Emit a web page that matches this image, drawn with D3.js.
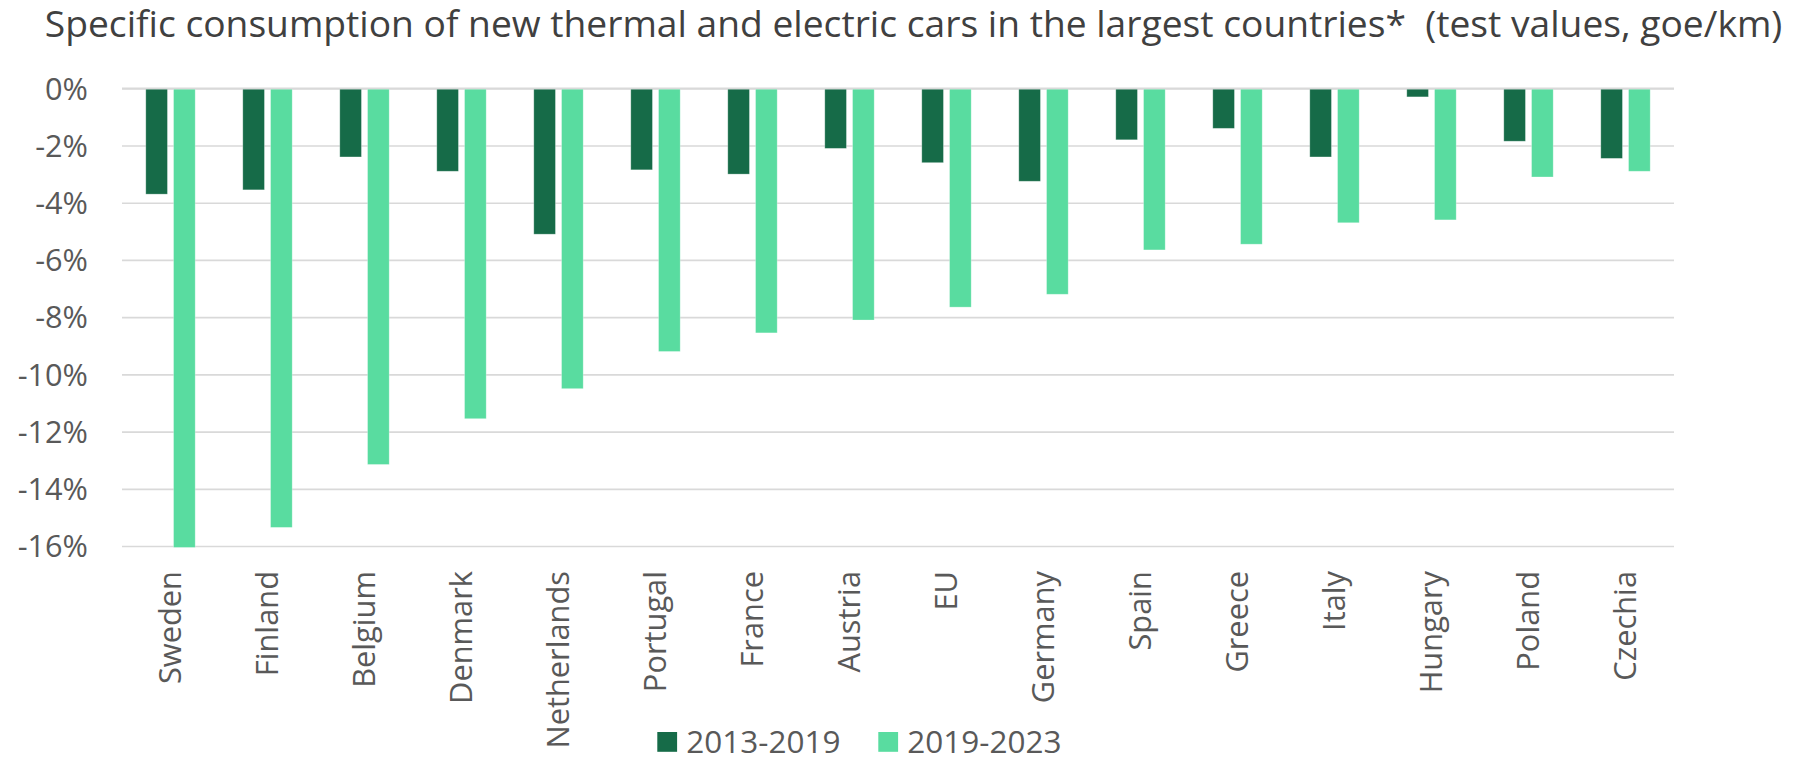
<!DOCTYPE html>
<html>
<head>
<meta charset="utf-8">
<script src="https://cdn.jsdelivr.net/npm/d3@7"></script>
<style>
  html, body { margin: 0; padding: 0; background: #fff; }
  svg { display: block; font-family: "Open Sans", sans-serif; }
</style>
</head>
<body>
<svg id="chart" width="1799" height="757"></svg>
<script>
const titleText = "Specific consumption of new thermal and electric cars in the largest countries*  (test values, goe/km)";
const categories = ["Sweden","Finland","Belgium","Denmark","Netherlands","Portugal","France","Austria","EU","Germany","Spain","Greece","Italy","Hungary","Poland","Czechia"];
const seriesNames = ["2013-2019", "2019-2023"];
const values2013_2019 = [-3.7, -3.55, -2.4, -2.9, -5.1, -2.85, -3.0, -2.1, -2.6, -3.25, -1.8, -1.4, -2.4, -0.3, -1.85, -2.45];
const values2019_2023 = [-16.05, -15.35, -13.15, -11.55, -10.5, -9.2, -8.55, -8.1, -7.65, -7.2, -5.65, -5.45, -4.7, -4.6, -3.1, -2.9];
const tickValues = [0, -2, -4, -6, -8, -10, -12, -14, -16];
const tickLabels = ["0%", "-2%", "-4%", "-6%", "-8%", "-10%", "-12%", "-14%", "-16%"];
const colors = ["#166b48", "#59dca0"];

(function () {
const svg = d3.select("#chart");
const textColor = "#595959";
const plotLeft = 122, plotRight = 1674, plotTop = 88.3, plotBottom = 546;

const x = d3.scaleBand().domain(categories).range([plotLeft, plotRight]).paddingInner(0).paddingOuter(0);
const groupW = 49.4;
const xInner = d3.scaleBand().domain(seriesNames)
  .range([x.bandwidth() / 2 - groupW / 2, x.bandwidth() / 2 + groupW / 2])
  .paddingInner(0.22).paddingOuter(0);
const y = d3.scaleLinear().domain([-16, 0]).range([plotBottom, plotTop]);

// Title
const title = svg.append("text")
  .attr("x", 44.8).attr("y", 37)
  .attr("fill", "#404040")
  .style("font-size", "32px")
  .style("white-space", "pre")
  .attr("xml:space", "preserve")
  .text(titleText);
const tw = title.node().getComputedTextLength();
title.style("font-size", (32 * 1738 / tw).toFixed(2) + "px");

// Gridlines
const grid = svg.append("g")
  .attr("transform", `translate(${plotLeft},0)`)
  .call(d3.axisLeft(y).tickValues(tickValues).tickSize(-(plotRight - plotLeft)).tickFormat(""));
grid.select(".domain").remove();
grid.selectAll(".tick line").attr("stroke", "#d9d9d9").attr("stroke-width", 1.7);

// Bars
const data = categories.map((c, i) => ({ cat: c, vals: [values2013_2019[i], values2019_2023[i]] }));
const groups = svg.append("g").selectAll("g").data(data).join("g")
  .attr("transform", d => `translate(${x(d.cat)},0)`);
groups.selectAll("rect").data(d => d.vals.map((v, k) => ({ s: seriesNames[k], v, k })))
  .join("rect")
  .attr("x", d => xInner(d.s))
  .attr("width", xInner.bandwidth())
  .attr("y", y(0) + 0.8)
  .attr("height", d => y(d.v) - y(0) - 0.8)
  .attr("fill", d => colors[d.k])
  .attr("stroke", "#ffffff").attr("stroke-opacity", 0.35).attr("stroke-width", 0.8);

// Zero line on top
svg.append("line").attr("x1", plotLeft).attr("x2", plotRight).attr("y1", y(0)).attr("y2", y(0))
  .attr("stroke", "#d9d9d9").attr("stroke-width", 1.7);

// Y tick labels
const yAxis = svg.append("g").attr("transform", `translate(88,0)`)
  .call(d3.axisLeft(y).tickValues(tickValues).tickSize(0).tickFormat((d, i) => tickLabels[i]));
yAxis.select(".domain").remove();
yAxis.selectAll(".tick text")
  .attr("x", 0).attr("dy", "0.35em")
  .attr("fill", textColor)
  .style("font-size", "30.7px")
  .style("font-family", "'Open Sans', sans-serif");

// X labels (rotated)
const xAxis = svg.append("g").attr("transform", `translate(0,571)`)
  .call(d3.axisBottom(x).tickSize(0));
xAxis.select(".domain").remove();
xAxis.selectAll(".tick text")
  .attr("transform", "rotate(-90)")
  .attr("text-anchor", "end")
  .attr("x", 0).attr("y", 0).attr("dy", "0.35em")
  .attr("fill", textColor)
  .style("font-size", "30.8px")
  .style("font-family", "'Open Sans', sans-serif");

// Legend
const legendItems = [{ name: seriesNames[0], c: colors[0], x: 657.3 }, { name: seriesNames[1], c: colors[1], x: 878.3 }];
const lg = svg.append("g");
legendItems.forEach(it => {
  lg.append("rect").attr("x", it.x).attr("y", 732).attr("width", 19.8).attr("height", 19.8).attr("fill", it.c);
  lg.append("text").attr("x", it.x + 29).attr("y", 753)
    .attr("fill", textColor).style("font-size", "31.5px").text(it.name);
});
})();
</script>
</body>
</html>
